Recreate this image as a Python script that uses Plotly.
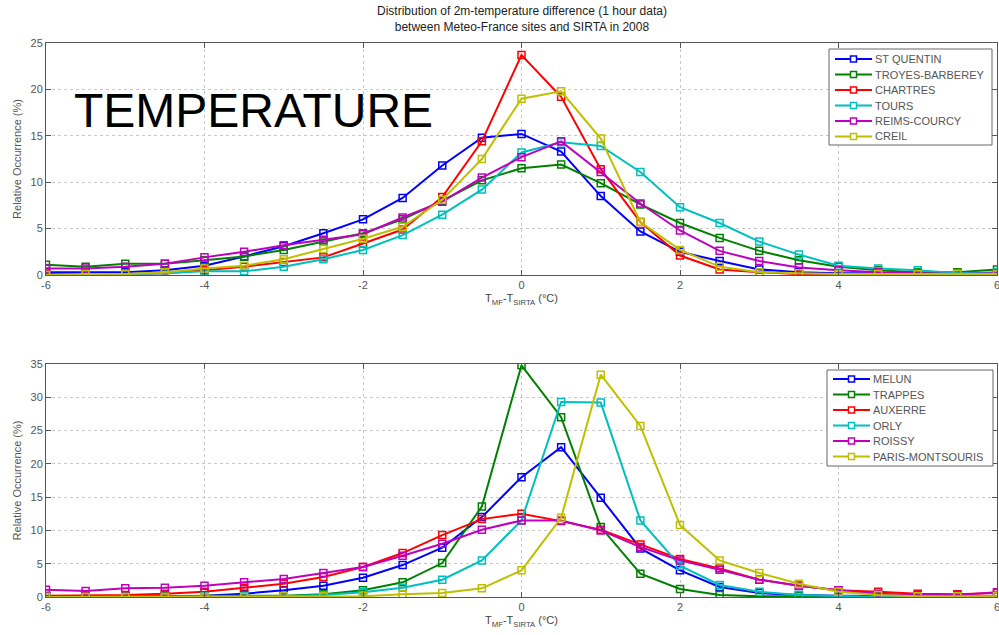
import plotly.graph_objects as go
from plotly.subplots import make_subplots

x = [-6 + 0.5 * i for i in range(25)]

top_names = ["ST QUENTIN", "TROYES-BARBEREY", "CHARTRES", "TOURS", "REIMS-COURCY", "CREIL"]
st_quentin = [0.3, 0.3, 0.3, 0.5, 1.0, 2.0, 3.1, 4.5, 6.0, 8.3, 11.8, 14.8, 15.2, 13.3, 8.5, 4.7, 2.5, 1.5, 0.6, 0.3, 0.2, 0.2, 0.2, 0.2, 0.2]
troyes = [1.1, 0.9, 1.2, 1.2, 1.6, 2.0, 2.7, 3.6, 4.5, 6.0, 8.0, 10.2, 11.5, 11.9, 9.9, 7.6, 5.6, 4.0, 2.6, 1.6, 0.9, 0.5, 0.3, 0.3, 0.6]
chartres = [0.1, 0.1, 0.1, 0.2, 0.5, 0.9, 1.4, 1.9, 3.4, 4.9, 8.4, 14.4, 23.7, 19.2, 11.4, 5.7, 2.1, 0.6, 0.3, 0.1, 0.1, 0.1, 0.1, 0.1, 0.1]
tours = [0.0, 0.0, 0.1, 0.2, 0.4, 0.4, 0.9, 1.7, 2.7, 4.3, 6.5, 9.2, 13.2, 14.3, 13.9, 11.1, 7.3, 5.6, 3.6, 2.2, 1.0, 0.7, 0.5, 0.2, 0.3]
reims = [0.7, 0.7, 0.9, 1.2, 1.9, 2.5, 3.2, 3.8, 4.4, 6.2, 7.9, 10.5, 12.7, 14.4, 11.1, 7.7, 4.8, 2.6, 1.5, 0.8, 0.5, 0.3, 0.2, 0.1, 0.2]
creil = [0.0, 0.1, 0.1, 0.3, 0.7, 1.0, 1.7, 2.8, 3.9, 5.2, 8.1, 12.5, 19.0, 19.8, 14.7, 5.7, 2.7, 0.9, 0.3, 0.2, 0.1, 0.1, 0.1, 0.1, 0.1]
top_values = [st_quentin, troyes, chartres, tours, reims, creil]

bot_names = ["MELUN", "TRAPPES", "AUXERRE", "ORLY", "ROISSY", "PARIS-MONTSOURIS"]
melun = [0.1, 0.1, 0.1, 0.1, 0.2, 0.5, 1.0, 1.7, 2.9, 4.8, 7.4, 12.0, 18.0, 22.5, 14.9, 7.3, 4.0, 1.5, 0.6, 0.3, 0.2, 0.1, 0.1, 0.1, 0.1]
trappes = [0.1, 0.1, 0.1, 0.1, 0.1, 0.1, 0.2, 0.4, 1.0, 2.2, 5.1, 13.6, 34.8, 27.0, 10.5, 3.5, 1.2, 0.3, 0.1, 0.1, 0.1, 0.1, 0.1, 0.1, 0.1]
auxerre = [0.2, 0.2, 0.3, 0.5, 0.8, 1.4, 2.0, 3.0, 4.5, 6.6, 9.3, 11.7, 12.5, 11.4, 10.1, 7.9, 5.7, 4.3, 2.6, 1.7, 1.0, 0.8, 0.5, 0.4, 0.6]
orly = [0.0, 0.0, 0.0, 0.0, 0.1, 0.1, 0.1, 0.3, 0.7, 1.4, 2.6, 5.5, 11.5, 29.3, 29.2, 11.5, 4.7, 1.8, 0.8, 0.3, 0.1, 0.0, 0.1, 0.1, 0.1]
roissy = [1.1, 0.9, 1.3, 1.4, 1.7, 2.2, 2.7, 3.6, 4.5, 6.2, 8.0, 10.1, 11.5, 11.5, 10.0, 7.5, 5.5, 4.1, 2.6, 1.7, 1.0, 0.5, 0.3, 0.3, 0.7]
paris = [0.0, 0.0, 0.0, 0.0, 0.0, 0.0, 0.1, 0.1, 0.1, 0.4, 0.6, 1.3, 4.0, 11.9, 33.4, 25.7, 10.8, 5.5, 3.6, 2.0, 0.8, 0.3, 0.1, 0.1, 0.1]
bot_values = [melun, trappes, auxerre, orly, roissy, paris]

colors = ["#0000ff", "#008000", "#ff0000", "#00bfbf", "#bf00bf", "#bfbf00"]

x_ticks = [-6, -4, -2, 0, 2, 4, 6]
top_y_ticks = [0, 5, 10, 15, 20, 25]
bot_y_ticks = [0, 5, 10, 15, 20, 25, 30, 35]

title_lines = ["Distribution of 2m-temperature difference (1 hour data)",
               "between Meteo-France sites and SIRTA in 2008"]
x_title = "T<sub>MF</sub>-T<sub>SIRTA</sub> (°C)"
y_title = "Relative Occurrence (%)"
big_label = "TEMPERATURE"

W, H = 999, 635
ML, MR, MT, MB = 46, 2, 43, 38
PW, PH = W - ML - MR, H - MT - MB

fig = make_subplots(rows=2, cols=1)

for name, vals, c in zip(top_names, top_values, colors):
    fig.add_trace(go.Scatter(x=x, y=vals, name=name, mode="lines+markers",
                             line=dict(color=c, width=2),
                             marker=dict(symbol="square-open", size=7, color=c, line=dict(width=1.5)),
                             showlegend=False), row=1, col=1)
for name, vals, c in zip(bot_names, bot_values, colors):
    fig.add_trace(go.Scatter(x=x, y=vals, name=name, mode="lines+markers",
                             line=dict(color=c, width=2),
                             marker=dict(symbol="square-open", size=7, color=c, line=dict(width=1.5)),
                             showlegend=False), row=2, col=1)

font_fam = "Liberation Sans, Arial, sans-serif"
axis_common = dict(showline=True, linecolor="#555555", linewidth=1, mirror="ticks",
                   ticks="inside", ticklen=5, tickcolor="#555555",
                   showgrid=True, gridcolor="#c8c8c8", griddash="dot", gridwidth=1,
                   zeroline=False, ticklabeloverflow="allow", automargin=False,
                   tickfont=dict(size=11, color="#555555", family=font_fam))

fig.update_xaxes(range=[-6, 6], tickvals=x_ticks, ticktext=[str(v) for v in x_ticks],
                 domain=[0, 1], **axis_common)
for r in (1, 2):
    fig.update_xaxes(title=dict(text=x_title, font=dict(size=11, color="#444444", family=font_fam), standoff=4),
                     row=r, col=1)
fig.update_yaxes(**axis_common)
fig.update_yaxes(range=[0, 25], tickvals=top_y_ticks, domain=[(H - MB - 275) / PH, 1.0],
                 title=dict(text=y_title, font=dict(size=11, color="#555555", family=font_fam), standoff=6),
                 row=1, col=1)
fig.update_yaxes(range=[0, 35], tickvals=bot_y_ticks, domain=[0.0, (H - MB - 364) / PH],
                 title=dict(text=y_title, font=dict(size=11, color="#555555", family=font_fam), standoff=6),
                 row=2, col=1)

fig.update_layout(
    width=W, height=H,
    margin=dict(l=ML, r=MR, t=MT, b=MB, autoexpand=False),
    paper_bgcolor="white", plot_bgcolor="white",
    showlegend=False,
    font=dict(family=font_fam),
)


def px_x(p):
    return (p - ML) / PW


def px_y(p):
    return (H - MB - p) / PH


def add_legend(names, box, row_y0, row_dy, line_x0, line_x1, text_x):
    bx0, by0, bx1, by1 = box
    fig.add_shape(type="rect", xref="paper", yref="paper",
                  x0=px_x(bx0), x1=px_x(bx1), y0=px_y(by1), y1=px_y(by0),
                  line=dict(color="#666666", width=1), fillcolor="white", layer="above")
    for i, (name, c) in enumerate(zip(names, colors)):
        yy = row_y0 + i * row_dy
        fig.add_shape(type="line", xref="paper", yref="paper",
                      x0=px_x(line_x0), x1=px_x(line_x1), y0=px_y(yy), y1=px_y(yy),
                      line=dict(color=c, width=2), layer="above")
        xm = (line_x0 + line_x1) / 2
        fig.add_shape(type="rect", xref="paper", yref="paper",
                      x0=px_x(xm - 3), x1=px_x(xm + 3), y0=px_y(yy + 3), y1=px_y(yy - 3),
                      line=dict(color=c, width=1.5), fillcolor="white", layer="above")
        fig.add_annotation(text=name, xref="paper", yref="paper", x=px_x(text_x), y=px_y(yy),
                           xanchor="left", yanchor="middle", showarrow=False,
                           font=dict(size=11, color="#555555", family=font_fam))


add_legend(top_names, (829, 49, 992, 145), 59, 15.5, 835, 872, 873)
add_legend(bot_names, (827, 370, 993, 466), 379, 15.5, 833, 870, 871)

fig.add_annotation(text="<br>".join(title_lines), xref="paper", yref="paper",
                   x=0.5, y=1.0, yshift=7, xanchor="center", yanchor="bottom", showarrow=False,
                   font=dict(size=12, color="#222222", family=font_fam))
fig.add_annotation(text=big_label, xref="paper", yref="paper",
                   x=px_x(72), y=px_y(110), xanchor="left", yanchor="middle",
                   showarrow=False, font=dict(size=48, color="black", family=font_fam))

fig.write_html("out.html")
